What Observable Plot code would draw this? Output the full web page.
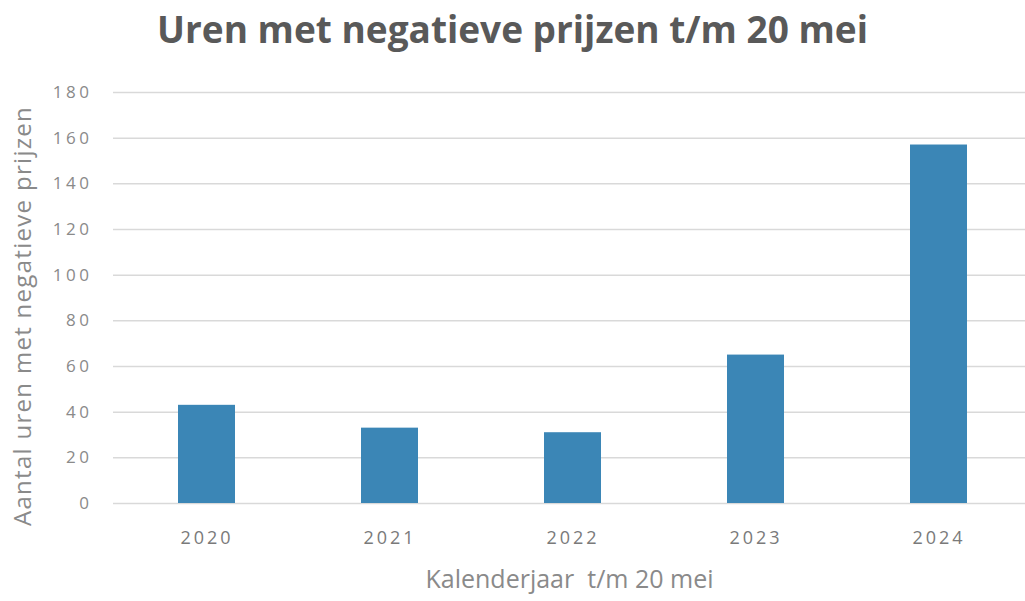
<!DOCTYPE html>
<html>
<head>
<meta charset="utf-8">
<script src="https://cdn.jsdelivr.net/npm/d3@7"></script>
<script src="https://cdn.jsdelivr.net/npm/@observablehq/plot@0.6"></script>
<style>
  html, body { margin: 0; padding: 0; background: #fff; }
  #title { height: 70px; line-height: 58px; text-align: center; font-family: "Open Sans", sans-serif; font-weight: 700; font-size: 37px; color: #595959; white-space: nowrap; }
  #chart svg { display: block; }
  #chart g[aria-label="y-axis tick label"] text { letter-spacing: 3.5px; }
  #chart g[aria-label="x-axis tick label"] text { letter-spacing: 3px; }
</style>
</head>
<body>
<div id="title">Uren met negatieve prijzen t/m 20 mei</div>
<div id="chart"></div>
<script>
const years = ["2020", "2021", "2022", "2023", "2024"];
const hours = [43, 33, 31, 65, 157];
const yTicks = [0, 20, 40, 60, 80, 100, 120, 140, 160, 180];
const xLabel = "Kalenderjaar  t/m 20 mei";
const yLabel = "Aantal uren met negatieve prijzen";

const data = years.map((y, i) => ({year: y, value: hours[i]}));

const plot = Plot.plot({
  width: 1025,
  height: 531,
  marginTop: 22,
  marginBottom: 98,
  marginLeft: 113,
  marginRight: 0,
  style: {fontFamily: "'Open Sans', sans-serif", background: "#fff"},
  x: {domain: years, range: [113, 1032], paddingInner: 0.69, paddingOuter: 0.345, label: null},
  y: {domain: [0, 180], label: null},
  marks: [
    Plot.ruleY(yTicks, {stroke: "#d9d9d9", strokeWidth: 1.5}),
    Plot.barY(data, {x: "year", y: "value", fill: "#3b86b6"}),
    Plot.axisY(yTicks, {tickSize: 0, tickPadding: 21, fontSize: 17, fill: "#8a8a8a"}),
    Plot.axisX({tickSize: 0, tickPadding: 28, fontSize: 18, fill: "#7a7a7a", label: null}),
    Plot.text([xLabel], {frameAnchor: "bottom", dy: 84, text: d => d, fontSize: 25, fill: "#8a8a8a"}),
    Plot.text([yLabel], {frameAnchor: "left", textAnchor: "middle", dx: -90, dy: 18, rotate: -90, text: d => d, fontSize: 24, fill: "#8a8a8a"})
  ]
});
d3.select(plot).selectAll("text")
  .filter(function() { return this.textContent === yLabel; })
  .style("letter-spacing", "1.3px");
document.getElementById("chart").appendChild(plot);
</script>
</body>
</html>
